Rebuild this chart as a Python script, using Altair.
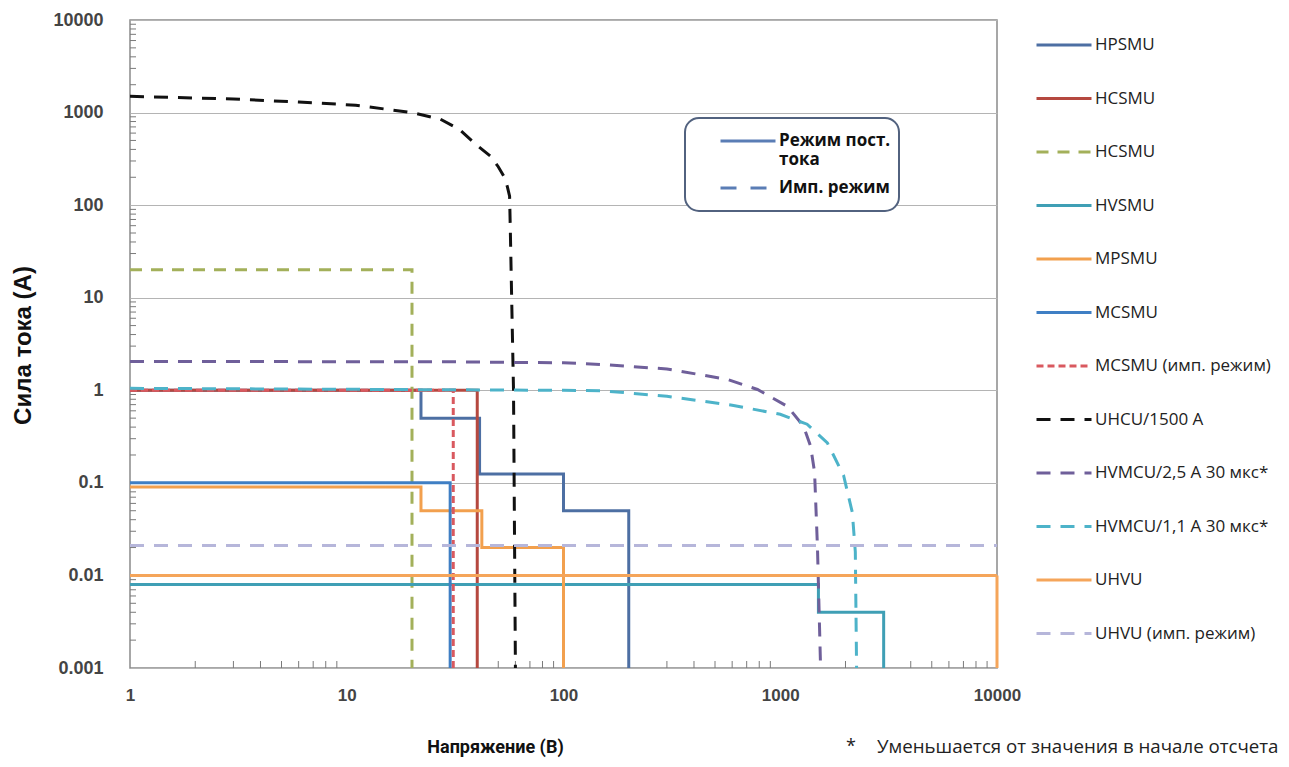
import altair as alt
import pandas as pd

# ---------------- data ----------------
series_keys = ["s01", "s02", "s03", "s04", "s05", "s06", "s07", "s08", "s09", "s10", "s11", "s12"]
series_labels = ["HPSMU", "HCSMU", "HCSMU", "HVSMU", "MPSMU", "MCSMU", "MCSMU (имп. режим)",
                 "UHCU/1500 A", "HVMCU/2,5 A 30 мкс*", "HVMCU/1,1 A 30 мкс*", "UHVU", "UHVU (имп. режим)"]
series_colors = ["#4d6fa3", "#b5483f", "#a3b05a", "#3f9fb5", "#f2a04e", "#3f7fc4", "#d9595f",
                 "#111111", "#6f5f9a", "#4db3c9", "#f5a55a", "#b6b6da"]
series_dash = [[1, 0], [1, 0], [12, 9], [1, 0], [1, 0], [1, 0], [7, 4],
               [14, 10], [14, 10], [14, 10], [1, 0], [14, 10]]
series_width = [3, 3, 3, 3, 3, 3, 3, 4, 3, 3, 3, 2.5]

hpsmu_v = [1, 22, 22, 41, 41, 100, 100, 200, 200]
hpsmu_i = [1, 1, 0.5, 0.5, 0.125, 0.125, 0.05, 0.05, 0.001]
hcsmu_v = [1, 40, 40]
hcsmu_i = [1, 1, 0.001]
hcsmu_pulse_v = [1, 20, 20]
hcsmu_pulse_i = [20, 20, 0.001]
hvsmu_v = [1, 1500, 1500, 3000, 3000]
hvsmu_i = [0.008, 0.008, 0.004, 0.004, 0.001]
mpsmu_v = [1, 22, 22, 42, 42, 100, 100]
mpsmu_i = [0.09, 0.09, 0.05, 0.05, 0.02, 0.02, 0.001]
mcsmu_v = [1, 30, 30]
mcsmu_i = [0.1, 0.1, 0.001]
mcsmu_pulse_v = [1, 31, 31]
mcsmu_pulse_i = [1, 1, 0.001]
uhcu_v = [1, 3, 6, 11, 20, 27, 33, 40, 46, 50, 53, 55, 56.4, 56.8, 57.7, 58.8, 59.6, 60]
uhcu_i = [1500, 1400, 1300, 1200, 1000, 850, 660, 440, 338, 260, 206, 160, 125, 59, 9, 1, 0.01, 0.001]
hvmcu25_v = [1, 30, 100, 150, 300, 570, 785, 1080, 1280, 1380, 1440, 1485, 1535]
hvmcu25_i = [2.05, 2.03, 1.98, 1.9, 1.7, 1.31, 1.02, 0.67, 0.41, 0.25, 0.13, 0.02, 0.001]
hvmcu11_v = [1, 100, 150, 300, 600, 1000, 1330, 1650, 1960, 2150, 2220, 2250]
hvmcu11_i = [1.05, 1.0, 0.99, 0.86, 0.69, 0.55, 0.43, 0.27, 0.12, 0.048, 0.018, 0.001]
uhvu_v = [1, 10000, 10000]
uhvu_i = [0.01, 0.01, 0.001]
uhvu_pulse_v = [1, 10000]
uhvu_pulse_i = [0.021, 0.021]

series_v = [hpsmu_v, hcsmu_v, hcsmu_pulse_v, hvsmu_v, mpsmu_v, mcsmu_v, mcsmu_pulse_v,
            uhcu_v, hvmcu25_v, hvmcu11_v, uhvu_v, uhvu_pulse_v]
series_i = [hpsmu_i, hcsmu_i, hcsmu_pulse_i, hvsmu_i, mpsmu_i, mcsmu_i, mcsmu_pulse_i,
            uhcu_i, hvmcu25_i, hvmcu11_i, uhvu_i, uhvu_pulse_i]

decade_x = [1, 10, 100, 1000, 10000]
decade_y = [0.001, 0.01, 0.1, 1, 10, 100, 1000, 10000]
minor_x = [m * d for d in [1, 10, 100, 1000] for m in range(2, 10)]
minor_y = [round(m * d, 6) for d in [0.001, 0.01, 0.1, 1, 10, 100, 1000] for m in range(2, 10)]

mode_keys = ["dc", "pulse"]
mode_labels = [["Режим пост.", "тока"], ["Имп. режим"]]
mode_colors = ["#5a7db5", "#5a7db5"]
mode_dash = [[1, 0], [16, 14]]

x_title = "Напряжение (В)"
y_title = "Сила тока (А)"
footnote_mark = "*"
footnote_text = "Уменьшается от значения в начале отсчета"

# ---------------- build tables ----------------
rows = []
for k, vs, cs in zip(series_keys, series_v, series_i):
    for n, (v, c) in enumerate(zip(vs, cs)):
        rows.append({"key": k, "v": v, "i": c, "ord": n})
df = pd.DataFrame(rows)

mode_rows = []
for k in mode_keys:
    for n in range(2):
        mode_rows.append({"mode": k, "v": 1, "i": 0.001, "ord": n})
mode_df = pd.DataFrame(mode_rows)

minor_x_df = pd.DataFrame({"m": minor_x})
minor_y_df = pd.DataFrame({"m": minor_y})

label_map = "{" + ",".join("'%s':'%s'" % (k, l) for k, l in zip(series_keys, series_labels)) + "}"
label_expr = label_map + "[datum.label]"
NB = "\u00a0" * 5
mode_map = "{" + ",".join(
    "'%s':[%s]" % (k, ",".join("'%s'" % (s + NB) for s in l)) for k, l in zip(mode_keys, mode_labels)) + "}"
mode_expr = mode_map + "[datum.label]"

AXIS_FONT = "Liberation Sans"
TEXT_FONT = "Open Sans"

xscale = alt.Scale(type="log", domain=[1, 10000], nice=False)
yscale = alt.Scale(type="log", domain=[0.001, 10000], nice=False)

main_legend = alt.Legend(
    title=None, orient="none", legendX=905, legendY=5, labelExpr=label_expr,
    symbolSize=3025, symbolStrokeWidth=3, symbolType="stroke", labelFont=TEXT_FONT,
    labelFontSize=17, labelColor="#222222", labelOffset=2, labelLimit=400,
    clipHeight=40, rowPadding=13.5, padding=0,
)

lines = alt.Chart(df).mark_line(strokeCap="butt").encode(
    x=alt.X("v:Q", scale=xscale, axis=alt.Axis(
        values=decade_x, format="~g", grid=False, ticks=False, tickSize=0, domain=False,
        labelFlush=False, labelOverlap=False, labelPadding=19, labelFont=AXIS_FONT,
        labelFontSize=17, labelFontWeight="bold", labelColor="#444444",
        title=x_title, titleFont="Roboto", titleFontSize=18, titleFontWeight="bold",
        titleColor="#111111", titleX=365, titleY=79, titleBaseline="middle", titleAnchor="middle")),
    y=alt.Y("i:Q", scale=yscale, axis=alt.Axis(
        values=decade_y, format="~g", grid=True, gridColor="#b4b4b4", gridWidth=1,
        ticks=False, tickSize=0, domain=False, labelPadding=27, labelFont=AXIS_FONT,
        labelFontSize=18, labelFontWeight="bold", labelColor="#444444", labelFlush=False,
        title=y_title, titleFont="Liberation Sans", titleFontSize=24,
        titleFontWeight="bold", titleColor="#111111", titleX=-107, titleY=325, titleAngle=270,
        titleAlign="center", titleBaseline="middle")),
    color=alt.Color("key:N", scale=alt.Scale(domain=series_keys, range=series_colors),
                    legend=main_legend),
    strokeDash=alt.StrokeDash("key:N", scale=alt.Scale(domain=series_keys, range=series_dash),
                              legend=main_legend),
    strokeWidth=alt.StrokeWidth("key:N", scale=alt.Scale(domain=series_keys, range=series_width),
                                legend=None),
    order=alt.Order("ord:Q"),
)

mode_legend = alt.Legend(
    title=None, orient="none", legendX=555, legendY=98, labelExpr=mode_expr,
    symbolSize=3025, symbolStrokeWidth=3, symbolType="stroke", labelFont=TEXT_FONT,
    labelFontSize=17, labelFontWeight="bold", labelColor="#111111", labelOffset=2,
    strokeColor="#52627f", cornerRadius=14, padding=8, symbolOffset=26, fillColor="#ffffff",
    clipHeight=30, rowPadding=5,
)

modes = alt.Chart(mode_df).mark_line(strokeCap="butt", strokeWidth=3).encode(
    x=alt.X("v:Q", scale=xscale, axis=None),
    y=alt.Y("i:Q", scale=yscale, axis=None),
    color=alt.Color("mode:N", scale=alt.Scale(domain=mode_keys, range=mode_colors), legend=mode_legend),
    strokeDash=alt.StrokeDash("mode:N", scale=alt.Scale(domain=mode_keys, range=mode_dash),
                              legend=mode_legend),
    order=alt.Order("ord:Q"),
)

# minor tick marks inside the frame (positions come from the log scales)
xticks = alt.Chart(minor_x_df).mark_rule(color="#7a7a7a", strokeWidth=1).encode(
    x=alt.X("m:Q", scale=xscale, axis=None),
    y=alt.value(641), y2=alt.value(648),
)
yticks = alt.Chart(minor_y_df).mark_rule(color="#7a7a7a", strokeWidth=1).encode(
    y=alt.Y("m:Q", scale=yscale, axis=None),
    x=alt.value(0), x2=alt.value(6),
)

foot1 = alt.Chart(alt.Data(values=[{"t": footnote_mark}])).mark_text(
    align="left", baseline="middle", font=TEXT_FONT, fontSize=18, color="#222222"
).encode(x=alt.value(716), y=alt.value(727), text="t:N")
foot2 = alt.Chart(alt.Data(values=[{"t": footnote_text}])).mark_text(
    align="left", baseline="middle", font=TEXT_FONT, fontSize=18.7, color="#222222"
).encode(x=alt.value(747), y=alt.value(727), text="t:N")

chart = alt.layer(xticks, yticks, lines, modes, foot1, foot2).resolve_scale(
    color="independent", strokeDash="independent"
).resolve_axis(x="independent", y="independent").properties(
    width=867, height=648, autosize=alt.AutoSizeParams(type="none"),
    padding={"left": 122, "top": 12, "right": 284, "bottom": 91},
).configure_view(stroke="#8a8a8a", strokeWidth=1.5).configure_legend(strokeWidth=2)

chart.save("out.html", embed_options={"renderer": "svg", "actions": False})
